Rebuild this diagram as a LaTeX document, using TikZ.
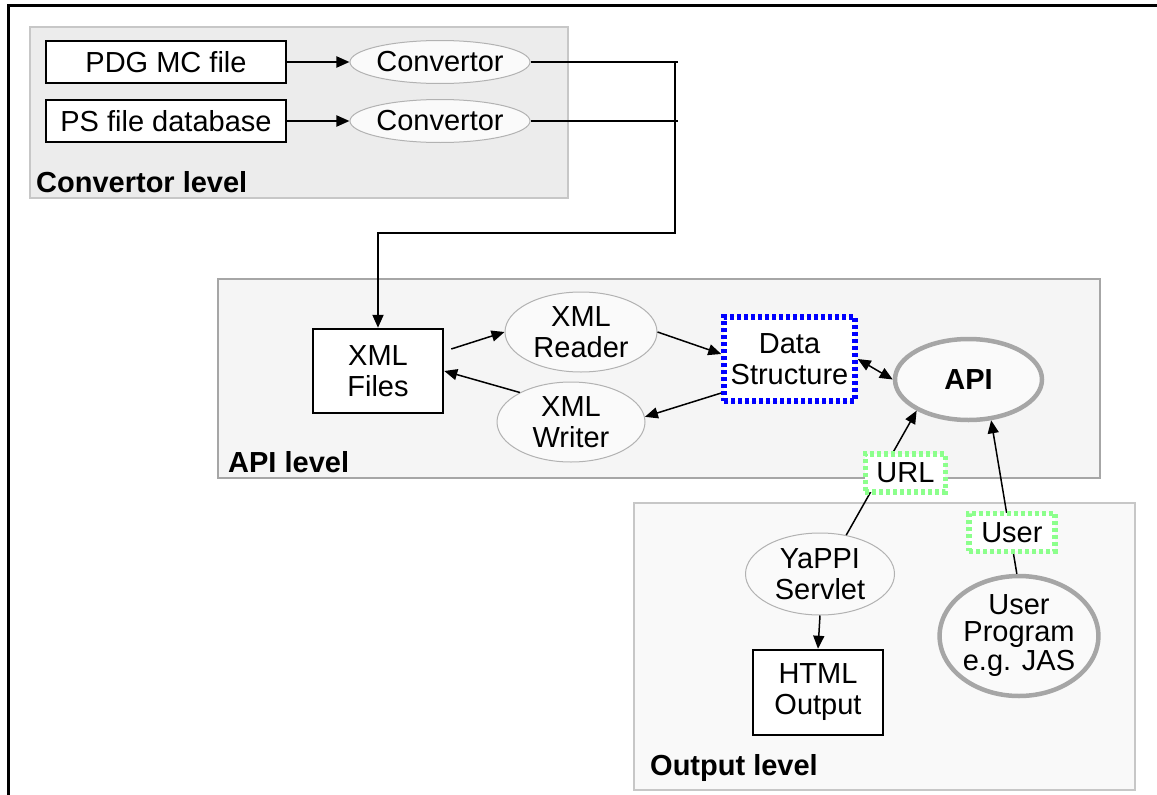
\documentclass[tikz,border=0pt]{standalone}
\usepackage{fontspec}
\setmainfont{Liberation Sans}
\usetikzlibrary{arrows.meta,shapes.geometric}

\begin{document}
\begin{tikzpicture}[x=1pt,y=-1pt,
  every node/.style={font=\fontsize{29}{31}\selectfont, inner sep=0pt, align=center},
  lvl/.style={anchor=west, font=\fontsize{29}{31}\selectfont\bfseries},
  filebox/.style={draw, line width=2.5pt, fill=white},
  procell/.style={ellipse, draw=black!30, line width=1pt, fill=black!2},
  apicell/.style={ellipse, draw=black!35, line width=4.5pt, fill=black!2},
  hatch/.style={fill=white, preaction={draw=white, line width=5.5pt}, draw=#1, line width=5.5pt, dash pattern=on 4pt off 3pt},
  arr/.style={-{Triangle[length=13pt,width=11pt]}, line width=1.5pt},
]
\useasboundingbox (0,0) rectangle (1157,795);
\draw[line width=3pt] (8,795) -- (8,5) -- (1157,5);%外枠

% 三つのレベル
\draw[draw=black!22, fill=black!7.5, line width=2pt] (30,27) rectangle (568,198);
\draw[draw=black!35, fill=black!4, line width=2pt] (218,279) rectangle (1100,478);
\draw[draw=black!22, fill=black!2.5, line width=2pt] (634,503) rectangle (1135,790);
\node[lvl] (convlvl) at (36,182) {Convertor level};
\node[lvl] (apilvl) at (228,462) {API level};
\node[lvl] (outlvl) at (650,768) {Output level};

% Convertor level
\foreach \row/\y/\txt in {pdg/62/PDG MC file, ps/121/PS file database}
  {
   \node[filebox, minimum width=240pt, minimum height=42pt] (\row) at (166,\y) {\txt};
   \node[procell, minimum width=164pt, minimum height=43pt] (conv-\row) at (440,\y) {Convertor};
   \coordinate (bus-\row) at (678,\y);
   \draw[arr, line width=2pt] (\row) -- (conv-\row);
   \draw[line width=2pt] (conv-\row) -- (bus-\row);
  }
\coordinate (bustop) at (675,62);
\coordinate (busbend) at (675,233);

% API level
\node[filebox, minimum width=130pt, minimum height=84pt] (xmlfiles) at (378,371) {XML\\Files};
\node[procell, minimum width=152pt, minimum height=80pt] (reader) at (581,332) {XML\\Reader};
\node[procell, minimum width=148pt, minimum height=80pt] (writer) at (571,422) {XML\\Writer};
\node[hatch=blue, minimum width=131pt, minimum height=84pt] (data) at (789.5,359) {Data\\Structure};
\node[apicell, minimum width=147pt, minimum height=81pt] (api) at (968.5,379.5) {\bfseries API};

% Output level
\node[procell, minimum width=149pt, minimum height=82pt] (yappi) at (820,574) {YaPPI\\Servlet};
\node[filebox, minimum width=130pt, minimum height=85pt] (html) at (818,692.5) {HTML\\Output};
\node[apicell, minimum width=148pt, minimum height=120pt, font=\fontsize{29}{27}\selectfont] (userprog) at (1019,636) {User\\Program\\[2pt]e.g. JAS};

% 矢印
\draw[arr, line width=2pt] (bustop) -- (busbend) -| (xmlfiles.north);
\draw[arr] ([xshift=7pt,yshift=22pt]xmlfiles.east) -- (reader.west);
\draw[arr] (writer.150) -- (xmlfiles.east);
\draw[arr] (reader.east) -- ([yshift=5pt]data.west);
\draw[arr] ([yshift=-34pt]data.west) -- (writer.4);
\draw[{Triangle[length=13pt,width=11pt]}-{Triangle[length=13pt,width=11pt]}, line width=1.5pt] (data.east) -- (api.west);
\draw[arr] (yappi.south) -- (html.north);
\draw[arr] (yappi.56) -- node[hatch=green!45, minimum width=80pt, minimum height=38pt, pos=0.5, xshift=24pt] (url) {URL} (api.211);
\draw[arr] (userprog.92) -- node[hatch=green!45, minimum width=86pt, minimum height=38pt, pos=0.27, xshift=2pt] (user) {User} (api.299);
\end{tikzpicture}
\end{document}
